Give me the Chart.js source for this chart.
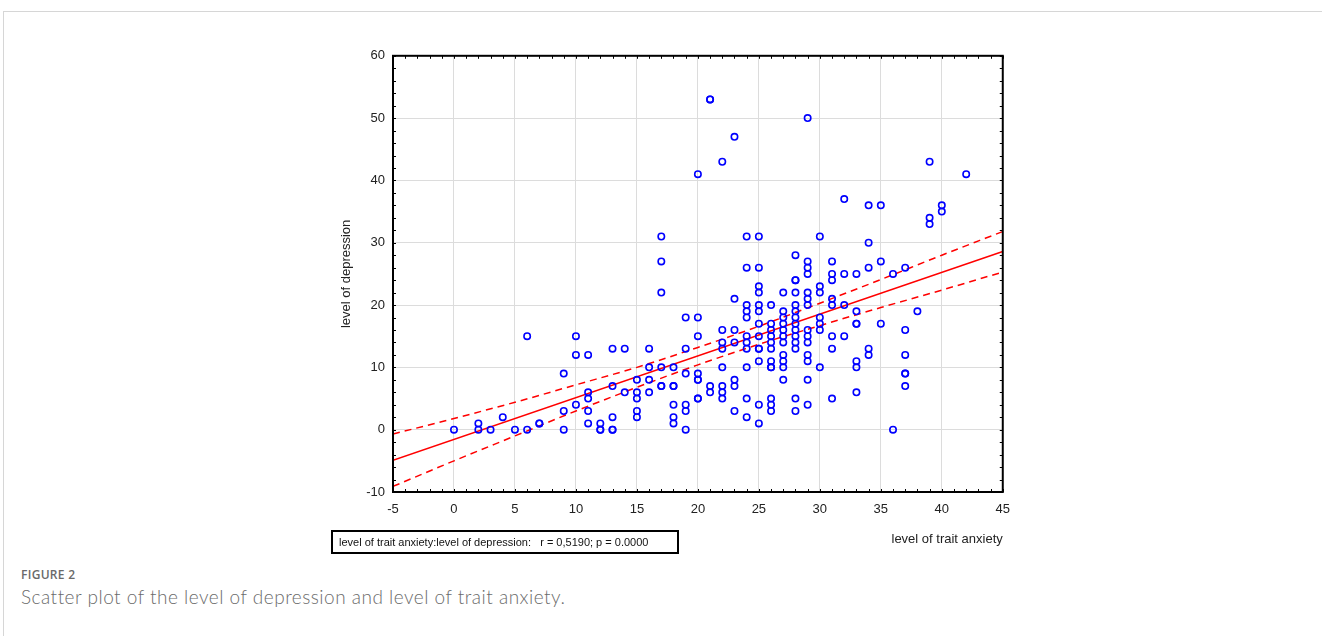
<!DOCTYPE html>
<html>
<head>
<meta charset="utf-8">
<script src="https://cdn.jsdelivr.net/npm/chart.js@4/dist/chart.umd.min.js"></script>
<style>
  body { margin: 0; background: #fff; font-family: "Liberation Sans", Arial, sans-serif; }
  #frame { position: absolute; left: 3px; top: 11px; width: 1340px; height: 700px; border: 1px solid #d6d6d6; }
  #wrap { position: absolute; left: 339px; top: 40px; width: 681px; height: 510px; }
  #stat { position: absolute; left: 331px; top: 530px; width: 338px; height: 20px; border: 2px solid #000;
          font-size: 11px; line-height: 20px; white-space: pre; color: #111; padding-left: 6px; box-sizing: content-box; }
  #fig { position: absolute; left: 21px; top: 566px; font-family: "Open Sans", sans-serif; font-weight: 600; font-size: 12px; color: #6a6a6a; letter-spacing: 0.3px; }
  #cap { position: absolute; left: 21px; top: 585px; font-family: "Lato", sans-serif; font-weight: 300; font-size: 19px; letter-spacing: 0.5px; color: #6b6b6b; }
</style>
</head>
<body>
<div id="frame"></div>
<div id="wrap"><canvas id="scatterChart"></canvas></div>
<div id="stat">level of trait anxiety:level of depression:   r = 0,5190; p = 0.0000</div>
<div id="fig">FIGURE 2</div>
<div id="cap">Scatter plot of the level of depression and level of trait anxiety.</div>
<script>
// trait anxiety (x) and depression (y) per respondent
var anxiety = [
  0, 2, 2, 3, 4, 5, 6, 6, 7, 7,
  9, 9, 9, 10, 10, 10, 11, 11, 11, 11, 11, 12, 12, 12,
  13, 13, 13, 13, 13, 14, 14, 15, 15, 15, 15, 15, 16, 16, 16, 16,
  17, 17, 17, 17, 17, 17, 18, 18, 18, 18, 18, 18,
  19, 19, 19, 19, 19, 19, 20, 20, 20, 20, 20, 20, 20, 20,
  21, 21, 21, 21, 22, 22, 22, 22, 22, 22, 22, 22,
  23, 23, 23, 23, 23, 23, 23,
  24, 24, 24, 24, 24, 24, 24, 24, 24, 24, 24,
  25, 25, 25, 25, 25, 25, 25, 25, 25, 25, 25, 25, 25,
  26, 26, 26, 26, 26, 26, 26, 26, 26, 26, 26, 26,
  27, 27, 27, 27, 27, 27, 27, 27, 27, 27, 27,
  28, 28, 28, 28, 28, 28, 28, 28, 28, 28, 28, 28, 28, 28,
  29, 29, 29, 29, 29, 29, 29, 29, 29, 29, 29, 29, 29, 29,
  30, 30, 30, 30, 30, 30, 30,
  31, 31, 31, 31, 31, 31, 31, 31,
  32, 32, 32, 32, 33, 33, 33, 33, 33, 33, 33,
  34, 34, 34, 34, 34, 35, 35, 35, 36, 36,
  37, 37, 37, 37, 37, 37, 38, 39, 39, 39, 40, 40, 42
];
var depression = [
  0, 1, 0, 0, 2, 0, 0, 15, 1, 1,
  9, 3, 0, 15, 12, 4, 12, 6, 5, 3, 1, 1, 0, 0,
  13, 7, 2, 0, 0, 13, 6, 8, 6, 5, 3, 2, 13, 10, 8, 6,
  31, 27, 22, 10, 7, 7, 10, 7, 7, 4, 2, 1,
  18, 13, 9, 4, 3, 0, 41, 18, 15, 9, 8, 8, 5, 5,
  53, 53, 7, 6, 43, 16, 14, 13, 10, 7, 6, 5,
  47, 21, 16, 14, 8, 7, 3,
  31, 26, 20, 19, 18, 15, 14, 13, 10, 5, 2,
  31, 26, 23, 22, 20, 19, 17, 15, 13, 13, 11, 4, 1,
  20, 17, 16, 15, 14, 13, 11, 10, 10, 5, 4, 3,
  22, 19, 18, 17, 16, 15, 14, 12, 11, 10, 8,
  28, 24, 24, 22, 20, 19, 18, 17, 16, 15, 14, 13, 5, 3,
  50, 27, 26, 25, 22, 21, 20, 16, 15, 14, 12, 11, 8, 4,
  31, 23, 22, 18, 17, 16, 10,
  27, 25, 24, 21, 20, 15, 13, 5,
  37, 25, 20, 15, 25, 19, 17, 17, 11, 10, 6,
  36, 30, 26, 13, 12, 36, 27, 17, 25, 0,
  26, 16, 12, 9, 9, 7, 19, 43, 34, 33, 36, 35, 41
];

// regression line and its confidence band
var fitX = [-5, 45];
var fitY = [-4.9, 28.6];
var bandX = [-5, 0, 5, 10, 15, 20, 25, 30, 35, 40, 45];
var bandUpper = [-0.7, 1.8, 4.4, 7.2, 10.0, 13.2, 16.6, 20.3, 24.1, 28.0, 31.8];
var bandLower = [-9.1, -5.0, -1.0, 3.0, 6.8, 10.4, 13.7, 16.7, 19.6, 22.4, 25.3];

var xTicks = { min: -5, max: 45, step: 5 };
var yTicks = { min: -10, max: 60, step: 10 };

function pairs(xs, ys) {
  return xs.map(function (x, i) { return { x: x, y: ys[i] }; });
}

// black frame round the plot plus small inward tick marks
var framePlugin = {
  id: 'frame',
  afterDraw: function (chart) {
    var c = chart.ctx, a = chart.chartArea;
    var sx = chart.scales.x, sy = chart.scales.y;
    c.save();
    c.strokeStyle = '#000';
    c.lineWidth = 1;
    c.beginPath();
    for (var v = xTicks.min; v <= xTicks.max; v += 1) {
      var px = Math.round(sx.getPixelForValue(v)) + 0.5;
      c.moveTo(px, a.bottom); c.lineTo(px, a.bottom - 3);
      c.moveTo(px, a.top); c.lineTo(px, a.top + 3);
    }
    for (var w = yTicks.min; w <= yTicks.max; w += 2) {
      var py = Math.round(sy.getPixelForValue(w)) + 0.5;
      c.moveTo(a.left, py); c.lineTo(a.left + 3, py);
      c.moveTo(a.right, py); c.lineTo(a.right - 3, py);
    }
    c.stroke();
    c.lineWidth = 2;
    c.strokeRect(a.left, a.top, a.right - a.left, a.bottom - a.top);
    c.restore();
  }
};

var ctx = document.getElementById('scatterChart').getContext('2d');
new Chart(ctx, {
  type: 'scatter',
  data: {
    datasets: [
      {
        data: pairs(anxiety, depression),
        pointStyle: 'circle',
        pointRadius: 3.2,
        borderColor: '#0000ff',
        backgroundColor: 'rgba(0,0,0,0)',
        borderWidth: 1.6,
        order: 0
      },
      {
        data: pairs(fitX, fitY),
        showLine: true,
        pointRadius: 0,
        borderColor: '#ff0000',
        borderWidth: 1.5,
        order: 1
      },
      {
        data: pairs(bandX, bandUpper),
        showLine: true,
        cubicInterpolationMode: 'monotone',
        pointRadius: 0,
        borderColor: '#ff0000',
        borderWidth: 1.5,
        borderDash: [7, 5],
        order: 1
      },
      {
        data: pairs(bandX, bandLower),
        showLine: true,
        cubicInterpolationMode: 'monotone',
        pointRadius: 0,
        borderColor: '#ff0000',
        borderWidth: 1.5,
        borderDash: [7, 5],
        order: 1
      }
    ]
  },
  options: {
    responsive: true,
    maintainAspectRatio: false,
    animation: false,
    layout: { padding: { top: 15, right: 17, bottom: 0, left: 0 } },
    plugins: { legend: { display: false }, tooltip: { enabled: false } },
    scales: {
      x: {
        type: 'linear',
        min: xTicks.min, max: xTicks.max,
        afterFit: function (s) { s.height = 58; },
        ticks: { stepSize: xTicks.step, padding: 10, color: '#222', font: { family: 'Liberation Sans', size: 13 } },
        grid: { color: '#dcdcdc', drawTicks: false },
        border: { display: false },
        title: { display: true, text: 'level of trait anxiety', align: 'end', color: '#222',
                 font: { family: 'Liberation Sans', size: 13 }, padding: { top: 0, bottom: 3 } }
      },
      y: {
        type: 'linear',
        min: yTicks.min, max: yTicks.max,
        afterFit: function (s) { s.width = 54; },
        ticks: { stepSize: yTicks.step, padding: 8, color: '#222', font: { family: 'Liberation Sans', size: 13 } },
        grid: { color: '#dcdcdc', drawTicks: false },
        border: { display: false },
        title: { display: true, text: 'level of depression', color: '#222',
                 font: { family: 'Liberation Sans', size: 13 }, padding: { top: 0, bottom: 4 } }
      }
    }
  },
  plugins: [framePlugin]
});
</script>
</body>
</html>
